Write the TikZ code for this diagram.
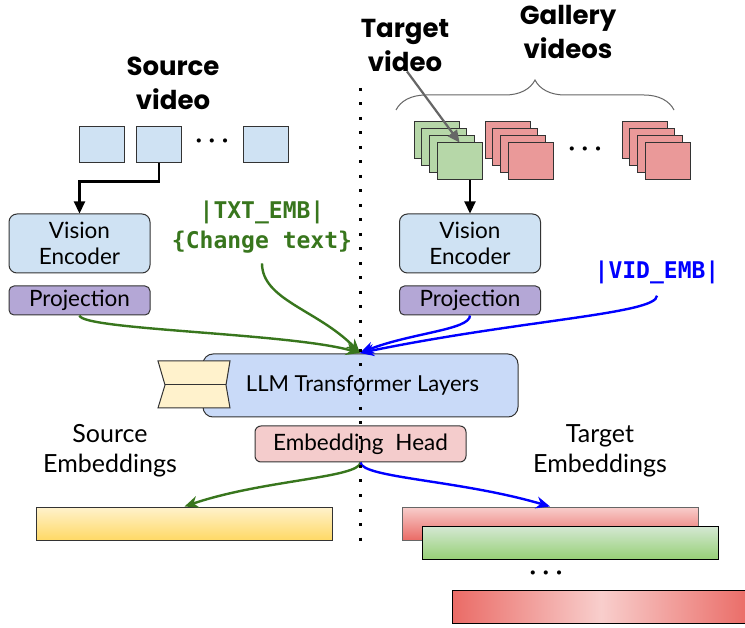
\documentclass[tikz,border=0pt]{standalone}
\usepackage{fontspec}
\setmainfont{Lato}
\newfontfamily\titlefont{Poppins}
\newfontfamily\codefont{DejaVu Sans Mono}
\usetikzlibrary{arrows.meta,decorations.pathreplacing,calc}
\definecolor{linec}{HTML}{333333}
\definecolor{frameblue}{HTML}{CFE2F3}
\definecolor{llmblue}{HTML}{C9DAF8}
\definecolor{projpurple}{HTML}{B4A7D6}
\definecolor{framegreen}{HTML}{B6D7A8}
\definecolor{framered}{HTML}{EA9999}
\definecolor{headpink}{HTML}{F4CCCC}
\definecolor{bowyellow}{HTML}{FFF2CC}
\definecolor{txtgreen}{HTML}{38761D}
\definecolor{vidblue}{HTML}{0000FF}
\definecolor{arrowgray}{HTML}{666666}
\definecolor{yelTop}{HTML}{FFF2CC}
\definecolor{yelBot}{HTML}{FFD966}
\definecolor{redTop}{HTML}{F8CECC}
\definecolor{redBot}{HTML}{EA6B66}
\definecolor{grnTop}{HTML}{D5E8D4}
\definecolor{grnBot}{HTML}{97D077}
\tikzset{
  box/.style={draw=linec, line width=1pt, inner sep=0pt},
  framebox/.style={box, minimum width=45pt, minimum height=37pt},
  srcframe/.style={framebox, fill=frameblue, minimum height=36pt},
  gframe/.style={framebox, fill=framegreen},
  rframe/.style={framebox, fill=framered},
  encbox/.style={box, fill=frameblue, rounded corners=8pt, minimum width=141pt, minimum height=59pt, align=center, font=\fontsize{22.5}{26}\selectfont},
  projbox/.style={box, fill=projpurple, rounded corners=5pt, minimum width=141pt, minimum height=29pt, font=\fontsize{22.5}{26}\selectfont},
  titletext/.style={align=center, font=\titlefont\bfseries\fontsize{26}{34}\selectfont, inner sep=0pt},
  codetext/.style={align=center, font=\codefont\bfseries\fontsize{23}{30}\selectfont, inner sep=0pt},
  labeltext/.style={align=center, font=\fontsize{25}{30}\selectfont, inner sep=0pt},
  dotstext/.style={font=\bfseries\fontsize{22}{26}\selectfont, inner sep=0pt},
  bar/.style={draw=linec, line width=1pt, inner sep=0pt, minimum width=296pt, minimum height=33pt},
  blackarrow/.style={draw=black, line width=2.2pt, -{Triangle[length=12pt,width=11pt]}},
  grayarrow/.style={draw=arrowgray, line width=2.2pt, -{Triangle[length=12pt,width=11pt]}},
  greenarrow/.style={draw=txtgreen, line width=2.4pt, -{Stealth[length=14pt,width=12pt]}},
  bluearrow/.style={draw=vidblue, line width=2.4pt, -{Stealth[length=14pt,width=12pt]}},
  divider/.style={draw=black, line width=3pt, dash pattern=on 3pt off 11.5pt}
}
\begin{document}
\begin{tikzpicture}[x=1pt,y=-1pt]
\clip (0,0) rectangle (745,628);
\fill[white] (0,0) rectangle (745,628);

% titles
\node[titletext] (srctitle) at (173,83) {Source\\video};
\node[titletext] (tgttitle) at (405,45) {Target\\video};
\node[titletext] (galtitle) at (568,32) {Gallery\\videos};

% source frames
\node[srcframe] (s1) at (101.5,145) {};
\node[srcframe] (s2) at (159,145) {};
\node[srcframe] (s3) at (266,145) {};
\node[dotstext] (sdots) at (212,143) {·\hspace{7pt}·\hspace{7pt}·};

% gallery brace
\coordinate (bl) at (396,110);
\coordinate (br) at (674,110);
\draw[draw=arrowgray, line width=1pt, decorate, decoration={brace, amplitude=30pt}] (bl) -- (br);

% gallery stacks
\foreach \i in {0,1,2,3} {
  \node[gframe] (g\i) at ({436.5+7.67*\i},{140.5+7*\i}) {};
}
\foreach \i in {0,1,2,3} {
  \node[rframe] (ra\i) at ({507.5+7.67*\i},{140.5+7*\i}) {};
}
\node[dotstext] (gdots) at (585,151) {·\hspace{7pt}·\hspace{7pt}·};
\foreach \i in {0,1,2,3} {
  \node[rframe] (rb\i) at ({644.5+7.67*\i},{140.5+7*\i}) {};
}

% encoders and projections
\node[encbox] (venc1) at (79.5,243.5) {Vision\\Encoder};
\node[projbox] (proj1) at (79.5,300.5) {Projection};
\node[encbox] (venc2) at (470,243.5) {Vision\\Encoder};
\node[projbox] (proj2) at (470,300.5) {Projection};

% special tokens
\node[codetext, text=txtgreen] (txt) at (262,227) {|TXT\_EMB|\\\{Change text\}};
\node[codetext, text=vidblue] (vid) at (657,272) {|VID\_EMB|};

% LLM
\node[box, fill=llmblue, rounded corners=10pt, minimum width=315pt, minimum height=63pt, font=\fontsize{22}{26}\selectfont] (llm) at (360.5,385.5) {\hspace{4pt}LLM Transformer Layers};
\filldraw[draw=linec, fill=bowyellow, line width=1pt] (158,361) -- (230,361) -- (226,385) -- (230,408) -- (158,408) -- (165,385) -- cycle;
\draw[draw=linec, line width=1pt] (165,385) -- (226,385);

% embedding head
\node[box, fill=headpink, rounded corners=6pt, minimum width=211pt, minimum height=36pt, font=\fontsize{22.5}{26}\selectfont] (head) at (360.5,444) {Embedding\hspace{6pt} Head};

% labels
\node[labeltext] (srcemb) at (110,451) {Source\\Embeddings};
\node[labeltext] (tgtemb) at (600,451) {Target\\Embeddings};

% bars
\node[bar, top color=yelTop, bottom color=yelBot] (ybar) at (184.5,523.5) {};
\node[bar, draw=arrowgray, top color=redTop, bottom color=redBot] (rbar) at (550,523.5) {};
\node[bar, draw=black, top color=grnTop, bottom color=grnBot] (gbar) at (570,542.5) {};
\node[dotstext] (bdots) at (546,575) {·\hspace{7pt}·\hspace{7pt}·};
\node[bar, draw=black, left color=redBot, right color=redBot, middle color=redTop, minimum width=298pt] (rbar2) at (601,606.5) {};

% black arrows
\draw[blackarrow] (s2.south) -- ++(0,18) -| (venc1.north);
\draw[blackarrow] (g3.south -| venc2.north) -- (venc2.north);
\draw[grayarrow] ($(tgttitle.south)+(2,0)$) -- (g3.north);

% converging arrows
\coordinate (llmin) at (360,353);
\draw[greenarrow] (proj1.south) .. controls (82,330) and (290,333) .. (llmin);
\draw[greenarrow] ($(txt.south)+(0,10)$) .. controls (262,300) and (318,310) .. (llmin);
\draw[bluearrow] (proj2.south) .. controls (470,330) and (410,333) .. (llmin);
\draw[bluearrow] ($(vid.south)+(0,12)$) .. controls (657,314) and (520,320) .. (llmin);

% diverging arrows
\draw[greenarrow] (head.south) .. controls (359,478) and (262,480) .. (ybar.north);
\draw[bluearrow] (head.south) .. controls (362,478) and (460,480) .. (rbar.north);

% divider
\coordinate (dtop) at (360,88);
\coordinate (dbot) at (360,547);
\draw[divider] (dtop) -- (dbot);
\end{tikzpicture}
\end{document}
